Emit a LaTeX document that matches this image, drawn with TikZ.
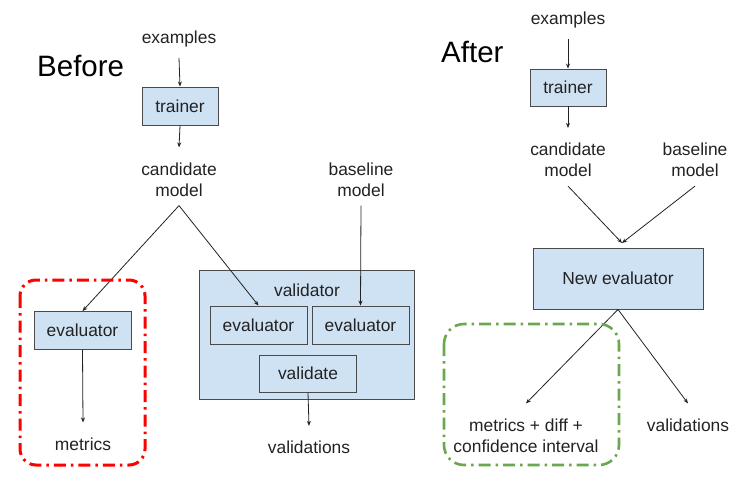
\documentclass[tikz,border=0pt]{standalone}
\usepackage{fontspec}
\setmainfont{Liberation Sans}
\usetikzlibrary{arrows.meta}
\definecolor{boxfill}{HTML}{CFE2F3}
\definecolor{boxline}{HTML}{4A4A4A}
\definecolor{txt}{HTML}{222222}
\definecolor{ddred}{HTML}{FF0000}
\definecolor{ddgreen}{HTML}{6AA84F}
\begin{document}
\begin{tikzpicture}[x=1pt,y=-1pt,
  lbl/.style={font=\fontsize{17.4}{21}\selectfont, text=txt, align=center, inner sep=0pt},
  blk/.style={lbl, draw=boxline, fill=boxfill, line width=0.9pt, minimum width=97pt, minimum height=38pt},
  arr/.style={draw=txt, line width=0.8pt, -{Stealth[length=5pt,width=4pt]}},
  ttl/.style={font=\fontsize{29.5}{34}\selectfont, text=black, inner sep=0pt, anchor=base west},
  reddash/.style={draw=ddred, line width=3pt, dash pattern=on 12pt off 5pt on 2.5pt off 5pt, rounded corners=16pt},
  greendash/.style={draw=ddgreen, line width=2.6pt, dash pattern=on 12pt off 5pt on 2.5pt off 5pt, rounded corners=20pt}]
\useasboundingbox (0,0) rectangle (756,491);

% ---------------- Before ----------------
\node[ttl] (before) at (37,76) {Before};
\node[lbl] (exA) at (179,38.5) {examples};
\node[blk, minimum width=76pt] (trA) at (180,106) {trainer};
\node[lbl] (candA) at (179,179.5) {candidate\\model};
\node[lbl] (baseA) at (361,179.5) {baseline\\model};

\node[blk] (evA) at (82.5,330.5) {evaluator};
\node[lbl] (metA) at (83,444) {metrics};

\node[draw=boxline, fill=boxfill, line width=0.9pt, minimum width=215pt, minimum height=129pt, inner sep=0pt] (valbox) at (306.5,334.5) {};
\node[lbl] (valtxt) at (307,290) {validator};
\node[blk] (evB) at (258.5,325) {evaluator};
\node[blk] (evC) at (360.5,325) {evaluator};
\node[blk, minimum height=37pt] (vdA) at (308,373.5) {validate};
\node[lbl] (valsA) at (309,447.5) {validations};

\draw[arr] ([yshift=-11pt]exA.south) -- (trA.north);
\draw[arr] (trA.south) -- ([yshift=15pt]candA.north);
\draw[arr] ([yshift=-9pt]candA.south) -- (evA.north);
\draw[arr] ([yshift=-9pt]candA.south) -- (evB.north);
\draw[arr] ([yshift=-9pt]baseA.south) -- (evC.north);
\draw[arr] (evA.south) -- ([yshift=15pt]metA.north);
\draw[arr] (vdA.south) -- ([yshift=15pt]valsA.north);

\draw[reddash] (20,280) rectangle (145,465);

% ---------------- After ----------------
\node[ttl] (after) at (441,62) {After};
\node[lbl] (exB) at (568,19.5) {examples};
\node[blk, minimum width=76pt, minimum height=37pt] (trB) at (568,87.5) {trainer};
\node[lbl] (candB) at (568,160) {candidate\\model};
\node[lbl] (baseB) at (695,160) {baseline\\model};
\coordinate (meet) at (622,243);
\node[blk, minimum width=170pt, minimum height=61pt] (newev) at (618,278.5) {New evaluator};
\node[lbl] (metB) at (526,435.5) {metrics + diff +\\confidence interval};
\node[lbl] (valsB) at (688,425) {validations};

\draw[arr] ([yshift=-11pt]exB.south) -- (trB.north);
\draw[arr] (trB.south) -- ([yshift=15pt]candB.north);
\draw[arr] ([yshift=-9pt]candB.south) -- (meet);
\draw[arr] ([yshift=-9pt]baseB.south) -- (meet);
\draw[arr] (newev.south) -- ([yshift=15pt]metB.north);
\draw[arr] (newev.south) -- ([yshift=15pt]valsB.north);

\draw[greendash] (444,324) rectangle (619,465);
\end{tikzpicture}
\end{document}
